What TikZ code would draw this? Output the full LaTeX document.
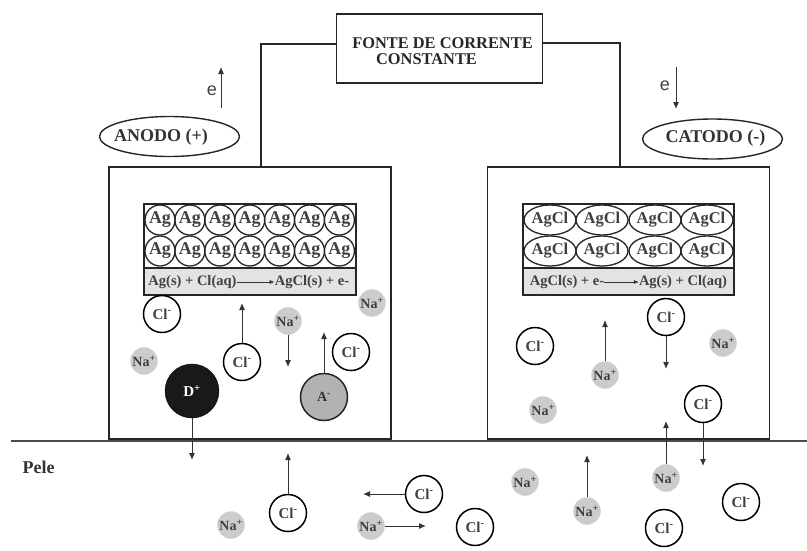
\documentclass[tikz,border=0pt]{standalone}
\usepackage{fontspec}
\usetikzlibrary{shapes.geometric, arrows.meta}
\setmainfont{Liberation Serif}
\newfontfamily\elfont{Liberation Sans}
\tikzset{
  wire/.style={line width=1.4pt, draw=black!85},
  cell/.style={draw=black!85, line width=1.5pt, minimum width=282pt, minimum height=272pt, inner sep=0pt},
  plate/.style={draw=black!85, fill=white, line width=1.4pt, minimum width=212pt, minimum height=64pt, inner sep=0pt},
  react/.style={draw=black!85, fill=black!11, line width=1.4pt, minimum width=212pt, minimum height=27pt, inner sep=0pt},
  atomag/.style={circle, draw=black!85, line width=1.3pt, minimum size=30pt, inner sep=0pt, font=\bfseries\fontsize{18}{18}\selectfont, text=black!75},
  atomcl/.style={ellipse, draw=black!85, line width=1.3pt, minimum width=52pt, minimum height=30pt, inner sep=0pt, font=\bfseries\fontsize{16.5}{17}\selectfont, text=black!75},
  eqtext/.style={inner sep=0pt, font=\bfseries\fontsize{14.5}{15}\selectfont, text=black!75},
  clion/.style={circle, draw=black, fill=white, line width=1.5pt, minimum size=37pt, inner sep=0pt, font=\bfseries\fontsize{15}{15}\selectfont, text=black!75},
  naion/.style={circle, fill=black!20, minimum size=27.5pt, inner sep=0pt, font=\bfseries\fontsize{14}{14}\selectfont, text=black!75},
  ionarrow/.style={-{Latex[length=7pt,width=6pt]}, line width=1pt, draw=black!80},
  eqarrow/.style={-{Latex[length=5pt,width=4pt]}, line width=0.7pt, draw=black!80},
  pole/.style={ellipse, draw=black!85, line width=1.4pt, minimum width=140pt, minimum height=40pt, inner sep=0pt},
  poletext/.style={inner sep=0pt, font=\bfseries\fontsize{18}{18}\selectfont, text=black!80},
  sourcetext/.style={inner sep=0pt, font=\bfseries\fontsize{16.4}{17}\selectfont, text=black!85},
  eltext/.style={inner sep=0pt, font=\elfont\fontsize{18}{18}\selectfont, text=black!75},
}
\begin{document}
\begin{tikzpicture}[x=1pt, y=-1pt]
    \useasboundingbox (0,0) rectangle (807,550);

    % fonte e fios
    \node[draw=black!85, line width=1.5pt, minimum width=206pt, minimum height=69pt] (source) at (439.5,48.5) {};
    \node[sourcetext] (sourcea) at (442.5,43) {FONTE DE CORRENTE};
    \node[sourcetext] (sourceb) at (426.5,59.5) {CONSTANTE};

    \node[cell] (anodecell) at (250,303) {};
    \node[cell] (cathodecell) at (628.5,303) {};
    \draw[wire] ([yshift=4.5pt]source.west) -| ([xshift=11pt]anodecell.north);
    \draw[wire] ([yshift=5.5pt]source.east) -| ([xshift=-8.5pt]cathodecell.north);

    \coordinate (skinl) at (11,441);
    \coordinate (skinr) at (807,441);
    \draw[line width=1.7pt, black!70] (skinl) -- (skinr);
    \node[inner sep=0pt, font=\bfseries\fontsize{18}{18}\selectfont, text=black!80] (skin) at (38.5,467) {Pele};

    % polos
    \node[pole] (anode) at (169.5,136.5) {};
    \node[pole] (cathode) at (712.5,139) {};
    \node[poletext] (anodetext) at (161,137) {ANODO (+)};
    \node[poletext] (cathodetext) at (715.5,138.5) {CATODO (-)};
    \node[eltext] (ea) at (212,91) {e};
    \node[eltext] (ec) at (665,86) {e};
    \coordinate (eafrom) at (221,108);
    \coordinate (eato) at (221,67);
    \coordinate (ecfrom) at (676,67);
    \coordinate (ecto) at (676,109);
    \draw[ionarrow] (eafrom) -- (eato);
    \draw[ionarrow] (ecfrom) -- (ecto);

    % eletrodo de prata
    \node[plate] (agplate) at (250,236) {};
    \node[react] (agreact) at (250,281.5) {};
    \foreach \i in {0,...,6} {
        \node[atomag] (aga\i) at (160+29.9*\i,220) {Ag};
        \node[atomag] (agb\i) at (160+29.9*\i,251) {Ag};
    }
    \node[eqtext] (agleft) at (192.5,282) {Ag(s) + Cl(aq)};
    \node[eqtext] (agright) at (312,282) {AgCl(s) + e-};
    \draw[eqarrow] (agleft) -- (agright);

    % eletrodo de cloreto de prata
    \node[plate, minimum width=211pt] (clplate) at (628.5,236) {};
    \node[react, minimum width=211pt] (clreact) at (628.5,281.5) {};
    \foreach \i/\x in {0/550,1/602,2/655,3/707} {
        \node[atomcl] (cla\i) at (\x,220) {AgCl};
        \node[atomcl] (clb\i) at (\x,251) {AgCl};
    }
    \node[eqtext] (clleft) at (567,282) {AgCl(s) + e-};
    \node[eqtext] (clright) at (683,282) {Ag(s) + Cl(aq)};
    \draw[eqarrow] (clleft) -- (clright);

    % ions do anodo
    \node[clion] (cla) at (162,314) {Cl\textsuperscript{-}};
    \node[clion] (clc) at (242,362) {Cl\textsuperscript{-}};
    \node[clion] (cld) at (351,352) {Cl\textsuperscript{-}};
    \node[naion] (naa) at (288,321) {Na\textsuperscript{+}};
    \node[naion] (nab) at (372,303) {Na\textsuperscript{+}};
    \node[naion] (nac) at (144,361) {Na\textsuperscript{+}};
    \node[circle, fill=black!90, draw=black, minimum size=54pt, inner sep=0pt, text=white, font=\bfseries\fontsize{15}{15}\selectfont] (donor) at (192,391) {D\textsuperscript{+}};
    \node[circle, fill=black!30, draw=black!85, line width=1.5pt, minimum size=47pt, inner sep=0pt, font=\bfseries\fontsize{14}{14}\selectfont, text=black!80] (anion) at (324,397) {A\textsuperscript{-}};
    \coordinate (clcto) at (242,303);
    \coordinate (naato) at (288,367);
    \coordinate (donorto) at (192,460);
    \coordinate (anionto) at (324,332);
    \draw[ionarrow] (clc) -- (clcto);
    \draw[ionarrow] (naa) -- (naato);
    \draw[ionarrow] (donor) -- (donorto);
    \draw[ionarrow] (anion) -- (anionto);

    % ions do catodo
    \node[clion] (cle) at (535,346) {Cl\textsuperscript{-}};
    \node[clion] (clf) at (666,317) {Cl\textsuperscript{-}};
    \node[clion] (clg) at (703,404) {Cl\textsuperscript{-}};
    \node[naion] (nad) at (605,375) {Na\textsuperscript{+}};
    \node[naion] (nae) at (723,343) {Na\textsuperscript{+}};
    \node[naion] (naf) at (543,410) {Na\textsuperscript{+}};
    \coordinate (nadto) at (605,320);
    \coordinate (clfto) at (666,369);
    \coordinate (clgto) at (703,466);
    \draw[ionarrow] (nad) -- (nadto);
    \draw[ionarrow] (clf) -- (clfto);
    \draw[ionarrow] (clg) -- (clgto);

    % ions na pele
    \node[clion] (clh) at (288,513) {Cl\textsuperscript{-}};
    \node[clion] (cli) at (424,494) {Cl\textsuperscript{-}};
    \node[clion] (clj) at (475,527) {Cl\textsuperscript{-}};
    \node[clion] (clk) at (664,528) {Cl\textsuperscript{-}};
    \node[clion] (cll) at (741,502) {Cl\textsuperscript{-}};
    \node[naion] (nag) at (231,525) {Na\textsuperscript{+}};
    \node[naion] (nah) at (371,526) {Na\textsuperscript{+}};
    \node[naion] (nai) at (525,482) {Na\textsuperscript{+}};
    \node[naion] (naj) at (587,511) {Na\textsuperscript{+}};
    \node[naion] (nak) at (666,478) {Na\textsuperscript{+}};
    \coordinate (clhto) at (288,453);
    \coordinate (clito) at (363,494);
    \coordinate (nahto) at (426,526);
    \coordinate (najto) at (587,455);
    \coordinate (nakto) at (666,421);
    \draw[ionarrow] (clh) -- (clhto);
    \draw[ionarrow] (cli) -- (clito);
    \draw[ionarrow] (nah) -- (nahto);
    \draw[ionarrow] (naj) -- (najto);
    \draw[ionarrow] (nak) -- (nakto);
\end{tikzpicture}
\end{document}
